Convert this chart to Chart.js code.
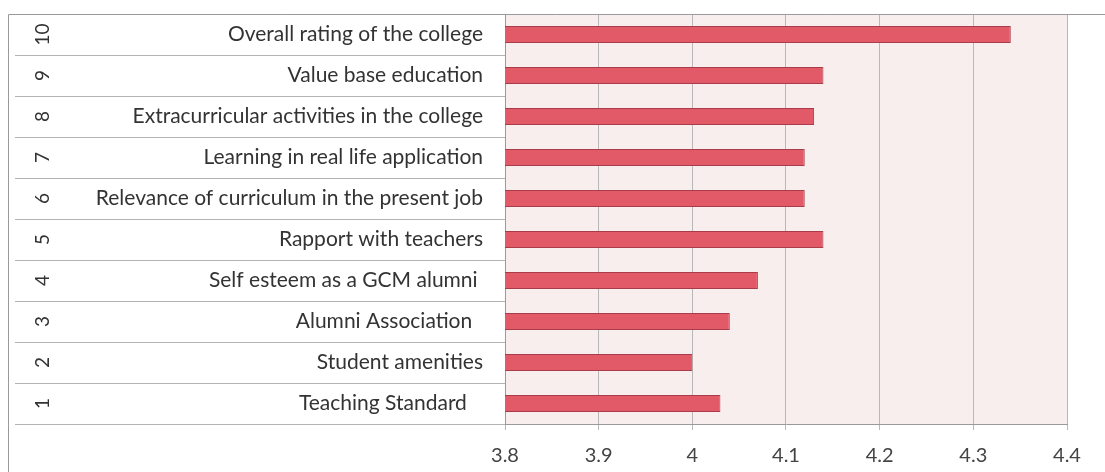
<!DOCTYPE html>
<html>
<head>
<meta charset="utf-8">
<script src="https://cdn.jsdelivr.net/npm/chart.js@4"></script>
<style>
  html, body { margin: 0; padding: 0; background: #ffffff; }
  #wrap { width: 1105px; height: 472px; position: relative; }
</style>
</head>
<body>
<div id="wrap"><canvas id="c"></canvas></div>
<script>
// Data (bottom row first, numbered 1..10)
const itemNumbers = ['1', '2', '3', '4', '5', '6', '7', '8', '9', '10'];
const categories = [
  'Teaching Standard   ',
  'Student amenities',
  'Alumni Association  ',
  'Self esteem as a GCM alumni ',
  'Rapport with teachers',
  'Relevance of curriculum in the present job',
  'Learning in real life application',
  'Extracurricular activities in the college',
  'Value base education',
  'Overall rating of the college'
];
const scores = [4.03, 4.00, 4.04, 4.07, 4.14, 4.12, 4.12, 4.13, 4.14, 4.34];
const xTickLabels = ['3.8', '3.9', '4', '4.1', '4.2', '4.3', '4.4'];

const FONT = 'Lato, "Open Sans", sans-serif';

const plotBg = {
  id: 'plotBg',
  beforeDraw(chart) {
    const { ctx, chartArea: a } = chart;
    ctx.save();
    ctx.fillStyle = '#f8eeee';
    ctx.fillRect(a.left, a.top, a.right - a.left, a.bottom - a.top);
    ctx.restore();
  },
  afterDraw(chart) {
    const { ctx, chartArea: a } = chart;
    ctx.save();
    ctx.strokeStyle = '#9a9a9a';
    ctx.lineWidth = 1;
    ctx.beginPath();
    ctx.moveTo(8.5, chart.height);
    ctx.lineTo(8.5, a.top + 0.5);
    ctx.lineTo(chart.width, a.top + 0.5);
    ctx.stroke();
    ctx.restore();
  }
};

new Chart(document.getElementById('c'), {
  type: 'bar',
  data: {
    labels: categories,
    datasets: [{
      data: scores,
      backgroundColor: '#e25a68',
      borderColor: '#a83c4a',
      borderWidth: 1,
      borderSkipped: false,
      barPercentage: 0.42,
      categoryPercentage: 1.0
    }]
  },
  options: {
    indexAxis: 'y',
    responsive: true,
    maintainAspectRatio: false,
    animation: false,
    layout: { padding: { top: 14, right: 38, left: 0, bottom: 0 } },
    plugins: { legend: { display: false }, tooltip: { enabled: false }, title: { display: false } },
    scales: {
      x: {
        type: 'linear',
        min: 3.8,
        max: 4.4,
        ticks: {
          stepSize: 0.1,
          color: '#444444',
          padding: 14,
          font: { family: FONT, size: 20 },
          callback: (v, i) => xTickLabels[i]
        },
        grid: { color: '#b8b8b8', tickLength: 6 },
        border: { color: '#9a9a9a' },
        afterFit: s => { s.height = 48; }
      },
      y: {
        type: 'category',
        position: 'left',
        reverse: true,
        offset: true,
        weight: 0,
        grid: { offset: true, drawOnChartArea: false, tickLength: 490, color: '#b4b4b4' },
        border: { display: true, color: '#9a9a9a' },
        ticks: {
          color: '#333333',
          padding: -468,
          autoSkip: false,
          font: { family: FONT, size: 21 }
        },
        afterFit: s => { s.width = 449; }
      },
      y2: {
        type: 'category',
        position: 'left',
        labels: itemNumbers,
        reverse: true,
        offset: true,
        weight: 1,
        grid: { display: false, drawTicks: false },
        border: { display: false },
        ticks: {
          color: '#333333',
          minRotation: 90,
          maxRotation: 90,
          crossAlign: 'center',
          padding: 2,
          autoSkip: false,
          font: { family: FONT, size: 19 }
        },
        afterFit: s => { s.width = 56; }
      }
    }
  },
  plugins: [plotBg]
});
</script>
</body>
</html>
